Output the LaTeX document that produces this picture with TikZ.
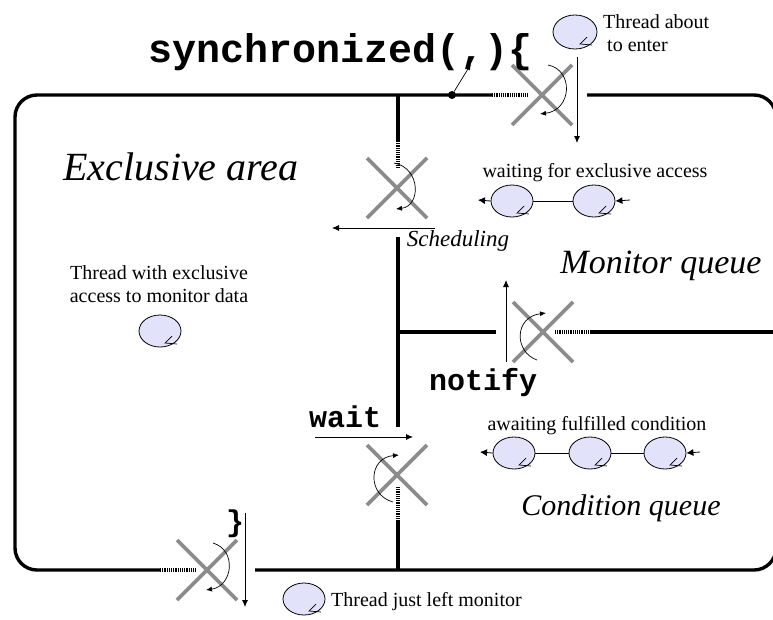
\documentclass[tikz,border=0pt]{standalone}
\usepackage{fontspec}
\setmainfont{Liberation Serif}
\setmonofont{Liberation Mono}
\usetikzlibrary{arrows.meta,shapes.geometric}
\definecolor{lav}{RGB}{226,226,250}
\definecolor{xgray}{RGB}{140,140,140}
\tikzset{
  wall/.style={line width=3.4pt,line cap=butt},
  dotwall/.style={line width=3.4pt,dash pattern=on 1.1pt off 1.1pt},
  cross/.style={xgray,line width=3.6pt},
  thin arrow/.style={line width=0.8pt,-{Latex[length=7pt,width=6pt]}},
  turn arrow/.style={line width=0.7pt,-{Latex[length=6pt,width=5pt]}},
  thread/.style={ellipse,draw,line width=0.8pt,fill=lav,minimum width=42pt,minimum height=32pt,inner sep=0pt},
  link/.style={line width=0.8pt},
  lbl/.style={font=\fontsize{20}{23}\selectfont,inner sep=0pt},
  big/.style={font=\fontsize{#1}{#1}\selectfont\itshape,inner sep=0pt},
  code/.style={font=\fontsize{#1}{#1}\selectfont\ttfamily\bfseries,inner sep=0pt},
}
\newcommand{\curl}[1]{\draw[line width=0.7pt] ([shift={(12,5)}]#1.center) -- ([shift={(5,12)}]#1.center) -- ([shift={(17,13)}]#1.center);}
\newcommand{\xmark}[2]{\draw[cross] ([shift={(-30,-30)}]#1) -- ([shift={(30,30)}]#1) ([shift={(-30,30)}]#1) -- ([shift={(30,-30)}]#1);}
\begin{document}
\begin{tikzpicture}[x=1pt,y=-1pt]
\useasboundingbox (0,0) rectangle (773,619);
% ---- crossing points
\coordinate (xtop) at (542,95);
\coordinate (xsched) at (397,188);
\coordinate (xnot) at (543,332);
\coordinate (xwait) at (397,475);
\coordinate (xbot) at (207,570);
% ---- outer wall
\coordinate (tA) at (492,95); \coordinate (tB) at (528,95); \coordinate (tC) at (587,95);
\coordinate (bA) at (160,570); \coordinate (bB) at (196,570); \coordinate (bC) at (255,570);
\draw[wall,rounded corners=22pt] (tA) -- (15,95) -- (15,570) -- (bA);
\draw[wall,rounded corners=22pt] (bC) -- (776,570) -- (776,95) -- (tC);
\draw[dotwall] (tA) -- (tB);
\draw[dotwall] (bA) -- (bB);
% ---- inner walls
\coordinate (v0) at (398,95); \coordinate (v1) at (398,141); \coordinate (v2) at (398,168);
\coordinate (v3) at (398,237); \coordinate (v4) at (398,427);
\coordinate (v5) at (398,487); \coordinate (v6) at (398,520); \coordinate (v7) at (398,570);
\coordinate (vj) at (398,332);
\draw[wall] (v0) -- (v1);
\draw[dotwall] (v1) -- (v2);
\draw[wall] (v3) -- (v4);
\draw[dotwall] (v5) -- (v6);
\draw[wall] (v6) -- (v7);
\coordinate (h1) at (496,332); \coordinate (h2) at (555,332); \coordinate (h3) at (590,332); \coordinate (h4) at (776,332);
\draw[wall] (vj) -- (h1);
\draw[dotwall] (h2) -- (h3);
\draw[wall] (h3) -- (h4);
% ---- crosses
\xmark{xtop}{}
\xmark{xsched}{}
\xmark{xnot}{}
\xmark{xwait}{}
\xmark{xbot}{}
% ---- turning arrows
\coordinate (ta1) at (548,65); \coordinate (ta2) at (540,114);
\draw[turn arrow] (ta1) .. controls (574,70) and (572,110) .. (ta2);
\coordinate (sa1) at (394,163); \coordinate (sa2) at (396,209);
\draw[turn arrow] (sa1) .. controls (421,168) and (421,206) .. (sa2);
\coordinate (na1) at (537,360); \coordinate (na2) at (546,313);
\draw[turn arrow] (na1) .. controls (514,352) and (514,317) .. (na2);
\coordinate (wa1) at (393,502); \coordinate (wa2) at (399,455);
\draw[turn arrow] (wa1) .. controls (367,495) and (368,458) .. (wa2);
\coordinate (ba1) at (213,543); \coordinate (ba2) at (206,590);
\draw[turn arrow] (ba1) .. controls (237,550) and (233,586) .. (ba2);
% ---- straight arrows
\coordinate (enter1) at (577,57); \coordinate (enter2) at (577,143);
\draw[thin arrow] (enter1) -- (enter2);
\coordinate (sch1) at (435,228); \coordinate (sch2) at (332,228);
\draw[thin arrow] (sch1) -- (sch2);
\coordinate (not1) at (506,362); \coordinate (not2) at (506,280);
\draw[thin arrow] (not1) -- (not2);
\coordinate (wt1) at (315,437); \coordinate (wt2) at (413,437);
\draw[thin arrow] (wt1) -- (wt2);
\coordinate (ex1) at (245,513); \coordinate (ex2) at (245,607);
\draw[thin arrow] (ex1) -- (ex2);
% ---- synchronized
\node[code=40,anchor=base west] (sync) at (148,62) {synchronized(,)\{};
\node[circle,fill=black,inner sep=0pt,minimum size=8pt] (lockdot) at (452,95) {};
\coordinate (comma) at (471,64);
\draw[line width=0.7pt,-{Latex[length=6pt,width=5pt]}] (lockdot) -- (comma);
\node[code=30,anchor=base] (close) at (235,531) {\}};
\node[code=30,anchor=base west] (wait) at (309,427) {wait};
\node[code=30,anchor=base west] (notify) at (429,390) {notify};
% ---- area labels
\node[big=40] (excl) at (181,167) {Exclusive area};
\node[big=23] (sched) at (458,241) {Scheduling};
\node[big=34] (monq) at (661,266) {Monitor queue};
\node[big=30] (condq) at (621,508) {Condition queue};
% ---- threads
\node[thread,minimum width=44pt,minimum height=34pt] (tenter) at (575,32) {};
\curl{tenter}
\node[lbl,anchor=west,align=left] (tenterl) at (603,33) {Thread about\\\hspace{4pt}to enter};
\node[thread] (tin) at (160,331) {};
\curl{tin}
\node[lbl,align=center] (tinl) at (159,284) {Thread with exclusive\\access to monitor data};
\node[thread] (tout) at (304,599) {};
\curl{tout}
\node[lbl,anchor=west] (toutl) at (331,602) {Thread just left monitor};
% monitor queue
\node[lbl] (mql) at (595,173) {waiting for exclusive access};
\node[thread] (m1) at (512,201) {};
\node[thread] (m2) at (594,201) {};
\curl{m1} \curl{m2}
\draw[link] (m1) -- (m2);
\coordinate (mout) at (478,200); \coordinate (min) at (630,200);
\draw[-{Latex[length=7pt,width=7pt]},line width=0.8pt] (m1.west) -- (mout);
\draw[-{Latex[length=7pt,width=7pt]},line width=0.8pt] (min) -- (m2.east);
% condition queue
\node[lbl] (cql) at (597,426) {awaiting fulfilled condition};
\node[thread] (c1) at (514,453) {};
\node[thread] (c2) at (590,453) {};
\node[thread] (c3) at (665,453) {};
\curl{c1} \curl{c2} \curl{c3}
\draw[link] (c1) -- (c2);
\draw[link] (c2) -- (c3);
\coordinate (cout) at (480,452); \coordinate (cin) at (700,452);
\draw[-{Latex[length=7pt,width=7pt]},line width=0.8pt] (c1.west) -- (cout);
\draw[-{Latex[length=7pt,width=7pt]},line width=0.8pt] (cin) -- (c3.east);
\end{tikzpicture}
\end{document}
